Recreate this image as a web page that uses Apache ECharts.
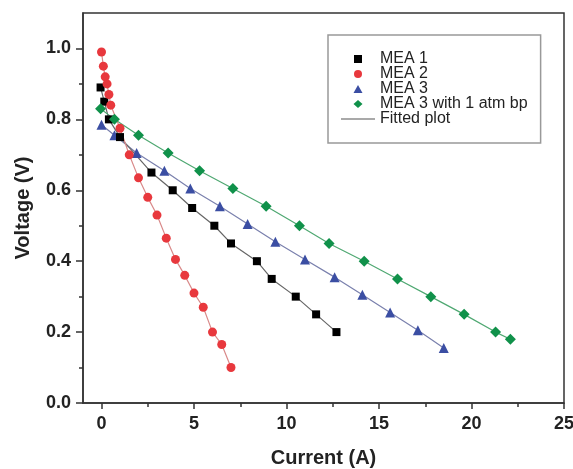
<!DOCTYPE html>
<html>
<head>
<meta charset="utf-8">
<script src="https://cdn.jsdelivr.net/npm/echarts@6/dist/echarts.min.js"></script>
<style>html,body{margin:0;padding:0;background:#fff;}#c{width:573px;height:469px;}</style>
</head>
<body>
<div id="c"></div>
<script>
const seriesNames = ['MEA 1', 'MEA 2', 'MEA 3', 'MEA 3 with 1 atm bp'];
const fittedName = 'Fitted plot';
const mea1X = [-0.05, 0.15, 0.4, 1.0, 2.7, 3.85, 4.9, 6.1, 7.0, 8.4, 9.2, 10.5, 11.6, 12.7];
const mea1Y = [0.89, 0.85, 0.80, 0.75, 0.65, 0.60, 0.55, 0.50, 0.45, 0.40, 0.35, 0.30, 0.25, 0.20];
const mea2X = [0, 0.1, 0.2, 0.3, 0.4, 0.5, 1.0, 1.5, 2.0, 2.5, 3.0, 3.5, 4.0, 4.5, 5.0, 5.5, 6.0, 6.5, 7.0];
const mea2Y = [0.99, 0.95, 0.92, 0.90, 0.87, 0.84, 0.775, 0.70, 0.635, 0.58, 0.53, 0.465, 0.405, 0.36, 0.31, 0.27, 0.20, 0.165, 0.10];
const mea3X = [0, 0.7, 1.9, 3.4, 4.8, 6.4, 7.9, 9.4, 11.0, 12.6, 14.1, 15.6, 17.1, 18.5];
const mea3Y = [0.785, 0.755, 0.705, 0.655, 0.605, 0.555, 0.505, 0.455, 0.405, 0.355, 0.305, 0.255, 0.205, 0.155];
const bpX = [-0.05, 0.7, 2.0, 3.6, 5.3, 7.1, 8.9, 10.7, 12.3, 14.2, 16.0, 17.8, 19.6, 21.3, 22.1];
const bpY = [0.83, 0.80, 0.755, 0.705, 0.655, 0.605, 0.555, 0.50, 0.45, 0.40, 0.35, 0.30, 0.25, 0.20, 0.18];
const xTicks = [0, 5, 10, 15, 20, 25];
const xMinorTicks = [2.5, 7.5, 12.5, 17.5, 22.5];
const yTicks = [0, 0.2, 0.4, 0.6, 0.8, 1.0];
const yMinorTicks = [0.1, 0.3, 0.5, 0.7, 0.9];

const zip = (xs, ys) => xs.map((x, i) => [x, ys[i]]);
const axisColor = '#333';
const font = 'Liberation Sans, Arial, sans-serif';

// legend icons: marker centred in a 34x8 box (degenerate segments fix the box)
const pad = 'M0,4L0,4M34,4L34,4';
const icons = {
  rect: 'path://' + pad + 'M13,0H21V8H13Z',
  circle: 'path://' + pad + 'M13,4A4,4,0,1,1,21,4A4,4,0,1,1,13,4Z',
  triangle: 'path://' + pad + 'M17,0L21.5,8L12.5,8Z',
  diamond: 'path://' + pad + 'M17,0L21.5,4L17,8L12.5,4Z',
  line: 'path://M0,3.4H34V4.6H0Z'
};

function mkSeries(name, xs, ys, symbol, size, color, lineColor) {
  return {
    name: name, type: 'line', data: zip(xs, ys),
    symbol: symbol, symbolSize: size,
    itemStyle: { color: color },
    lineStyle: { color: lineColor, width: 1.2 },
    emphasis: { disabled: true },
    animation: false
  };
}

const chart = echarts.init(document.getElementById('c'));
chart.setOption({
  animation: false,
  backgroundColor: '#fff',
  grid: { left: 83, right: 9, top: 13, bottom: 66, show: true, borderColor: axisColor, borderWidth: 1.5,
    backgroundColor: 'transparent', outerBoundsMode: 'none', containLabel: false },
  legend: {
    orient: 'vertical', left: 328, top: 35,
    padding: [16, 13, 16, 13],
    itemGap: -1, itemWidth: 34, itemHeight: 8,
    borderColor: '#999', borderWidth: 1.5,
    textStyle: { fontFamily: font, fontSize: 16, color: '#222', lineHeight: 15 },
    data: [
      { name: seriesNames[0], icon: icons.rect },
      { name: seriesNames[1], icon: icons.circle },
      { name: seriesNames[2], icon: icons.triangle },
      { name: seriesNames[3], icon: icons.diamond },
      { name: fittedName, icon: icons.line }
    ]
  },
  xAxis: [{
    type: 'value', min: -1, max: 25,
    name: 'Current (A)', nameLocation: 'middle', nameGap: 45,
    nameTextStyle: { fontFamily: font, fontSize: 20, fontWeight: 'bold', color: '#222' },
    axisLine: { show: true, onZero: false, lineStyle: { color: axisColor, width: 1.5 } },
    axisTick: { show: true, length: 6, customValues: xTicks, lineStyle: { color: axisColor, width: 1.5 } },
    axisLabel: { customValues: xTicks, margin: 12, fontFamily: font, fontSize: 18, fontWeight: 'bold', color: '#222' },
    splitLine: { show: false }
  }, {
    type: 'value', min: -1, max: 25, position: 'bottom',
    axisLine: { show: false, onZero: false },
    axisTick: { show: true, length: 4, customValues: xMinorTicks, lineStyle: { color: axisColor, width: 1.5 } },
    axisLabel: { show: false },
    splitLine: { show: false }
  }],
  yAxis: [{
    type: 'value', min: 0, max: 1.1,
    name: 'Voltage (V)', nameLocation: 'middle', nameGap: 50,
    nameTextStyle: { fontFamily: font, fontSize: 20, fontWeight: 'bold', color: '#222' },
    axisLine: { show: true, onZero: false, lineStyle: { color: axisColor, width: 1.5 } },
    axisTick: { show: true, length: 7, customValues: yTicks, lineStyle: { color: axisColor, width: 1.5 } },
    axisLabel: { customValues: yTicks, margin: 12, fontFamily: font, fontSize: 18, fontWeight: 'bold', color: '#222',
      formatter: v => v.toFixed(1) },
    splitLine: { show: false }
  }, {
    type: 'value', min: 0, max: 1.1, position: 'left',
    axisLine: { show: false, onZero: false },
    axisTick: { show: true, length: 4, customValues: yMinorTicks, lineStyle: { color: axisColor, width: 1.5 } },
    axisLabel: { show: false },
    splitLine: { show: false }
  }],
  series: [
    mkSeries(seriesNames[2], mea3X, mea3Y, 'triangle', 10, '#3b4ea3', '#7a80ad'),
    mkSeries(seriesNames[0], mea1X, mea1Y, 'rect', 8, '#000000', '#666666'),
    mkSeries(seriesNames[3], bpX, bpY, 'diamond', 11, '#10914a', '#4fa872'),
    mkSeries(seriesNames[1], mea2X, mea2Y, 'circle', 9, '#e8383d', '#d98a8a'),
    { name: fittedName, type: 'line', data: [], symbol: 'none', itemStyle: { color: '#555' }, lineStyle: { color: '#555', width: 1 } }
  ]
});
</script>
</body>
</html>
